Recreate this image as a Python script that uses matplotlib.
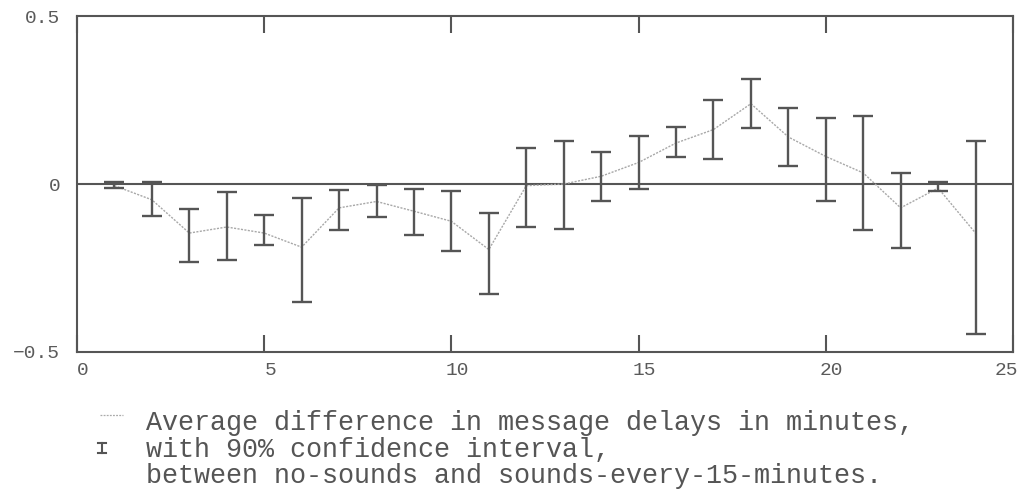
import matplotlib
matplotlib.use("Agg")
import matplotlib.pyplot as plt
from matplotlib.lines import Line2D
from matplotlib.transforms import ScaledTranslation

# ---- data ----
hours = list(range(1, 25))
mean_diff = [-0.005, -0.047, -0.146, -0.128, -0.146, -0.188, -0.071, -0.052,
             -0.081, -0.111, -0.195, -0.005, 0.000, 0.023, 0.064, 0.122,
             0.162, 0.239, 0.140, 0.082, 0.033, -0.071, -0.012, -0.146]
ci_upper = [0.005, 0.005, -0.074, -0.025, -0.091, -0.042, -0.019, -0.004,
            -0.014, -0.022, -0.086, 0.106, 0.129, 0.095, 0.142, 0.171,
            0.251, 0.313, 0.225, 0.196, 0.201, 0.033, 0.005, 0.129]
ci_lower = [-0.013, -0.096, -0.231, -0.226, -0.183, -0.352, -0.136, -0.098,
            -0.151, -0.198, -0.327, -0.129, -0.134, -0.050, -0.014, 0.081,
            0.075, 0.166, 0.053, -0.050, -0.138, -0.191, -0.022, -0.446]
x_ticks = [0, 5, 10, 15, 20, 25]
y_ticks = [-0.5, 0, 0.5]
y_tick_labels = ["\u22120.5", "0", "0.5"]
legend_lines = ["Average difference in message delays in minutes,",
                "with 90% confidence interval,",
                "between no-sounds and sounds-every-15-minutes."]

MONO = ["Liberation Mono", "DejaVu Sans Mono"]
DARK = "#555555"
TEXT = "#5a5a5a"

fig = plt.figure(figsize=(10.2, 4.99), dpi=100)
ax = fig.add_axes([0.0755, 0.2946, 0.9176, 0.6733])

yerr = [[m - lo for m, lo in zip(mean_diff, ci_lower)],
        [up - m for m, up in zip(mean_diff, ci_upper)]]

ax.axhline(0, color=DARK, lw=1.5, zorder=1)
ax.plot(hours, mean_diff, color="#a8a8a8", lw=1.0, ls=(0, (1.5, 1)), zorder=2)
ax.errorbar(hours, mean_diff, yerr=yerr, fmt="none", ecolor=DARK,
            elinewidth=1.7, capsize=7.2, capthick=1.7, zorder=3)

ax.set_xlim(0, 25)
ax.set_ylim(-0.5, 0.5)
ax.set_xticks(x_ticks)
ax.set_xticklabels([str(t) for t in x_ticks], family=MONO)
ax.set_yticks(y_ticks)
ax.set_yticklabels(y_tick_labels, family=MONO)
ax.tick_params(axis="x", direction="in", length=12, width=1.5, top=True,
               color=DARK, labelsize=14, pad=7, labelcolor=TEXT)
ax.tick_params(axis="y", length=0, labelsize=14, pad=12, labelcolor=TEXT)
for s in ax.spines.values():
    s.set_color(DARK)
    s.set_linewidth(1.5)

# shift x tick labels slightly like the reference (last one pulled inside)
labels = ax.get_xticklabels()
for i, lab in enumerate(labels):
    dx = 0.06 if i < len(labels) - 1 else -0.07
    lab.set_transform(lab.get_transform() + ScaledTranslation(dx, 0, fig.dpi_scale_trans))

# ---- legend below ----
W, H = 1020.0, 499.0
baselines = [430, 457, 483]
for txt, by in zip(legend_lines, baselines):
    fig.text(146 / W, 1 - by / H, txt, family=MONO, fontsize=19.3,
             color="#555555", va="baseline", ha="left")

fig.add_artist(Line2D([100 / W, 123 / W], [1 - 415 / H, 1 - 415 / H],
                      color="#aaaaaa", lw=0.9, ls=(0, (1.5, 1))))
cx, cy = 102 / W, 1 - 448 / H
fig.add_artist(Line2D([cx, cx], [cy - 5 / H, cy + 5 / H], color=DARK, lw=1.5))
for dy in (-5, 5):
    fig.add_artist(Line2D([cx - 4 / W, cx + 4 / W], [cy + dy / H, cy + dy / H],
                          color=DARK, lw=1.5))

fig.savefig("out.png", dpi=100)
